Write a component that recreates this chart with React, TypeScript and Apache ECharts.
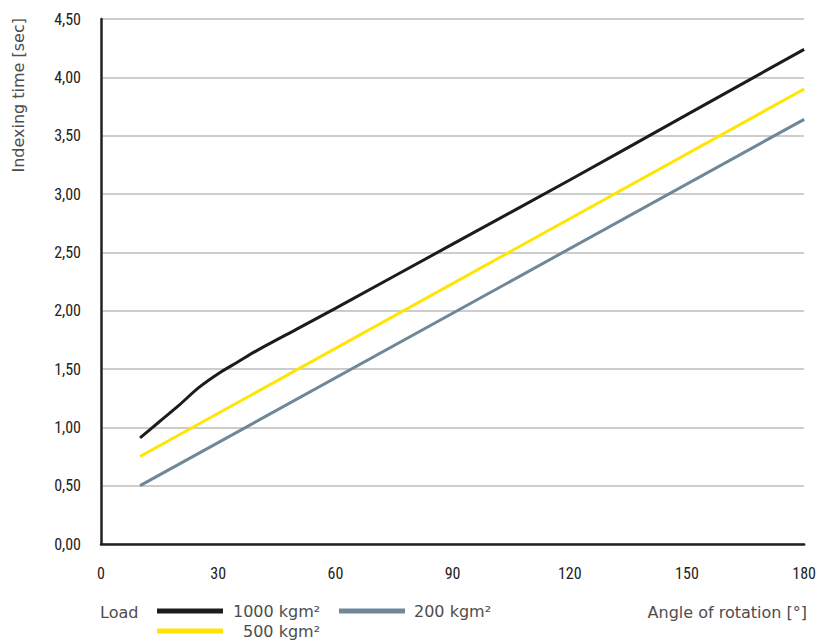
import React, { useEffect, useRef } from "react";
import * as echarts from "echarts";

const xTicks = [0, 30, 60, 90, 120, 150, 180];
const load1000 = [
  [10, 0.91], [15, 1.05], [20, 1.19], [25, 1.34], [30, 1.46], [35, 1.56],
  [40, 1.66], [50, 1.84], [60, 2.02], [90, 2.57], [120, 3.12], [150, 3.68], [180, 4.24],
];
const load500 = [[10, 0.75], [180, 3.9]];
const load200 = [[10, 0.5], [180, 3.64]];
const seriesNames = ["1000 kgm²", "500 kgm²", "200 kgm²"];
const seriesColors = ["#1c1c1c", "#ffe500", "#6e8799"];

const tickFont = "'Liberation Sans Narrow', 'Roboto Condensed', 'DejaVu Sans Condensed', sans-serif";
const textFont = "'DejaVu Sans', sans-serif";
const textColor = "#4d4d4d";

export default function App() {
  const ref = useRef<HTMLDivElement>(null);
  useEffect(() => {
    const chart = echarts.init(ref.current!, null, { renderer: "svg" });
    const legendText = { fontFamily: textFont, fontSize: 16, color: textColor, fontWeight: "normal" };
    const legendBase = {
      icon: "rect",
      itemWidth: 66,
      itemHeight: 5,
      selectedMode: false,
      padding: 0,
    };
    chart.setOption({
      animation: false,
      grid: { left: 101, right: 12, top: 19, bottom: 99 },
      xAxis: {
        type: "value",
        min: 0,
        max: 180,
        interval: 30,
        axisLine: { show: true, lineStyle: { color: "#222", width: 2.5 } },
        axisTick: { show: false },
        splitLine: { show: false },
        axisLabel: {
          margin: 21,
          fontFamily: tickFont,
          fontSize: 16,
          color: "#222",
          formatter: (v: number) => String(v),
        },
      },
      yAxis: {
        type: "value",
        min: 0,
        max: 4.5,
        interval: 0.5,
        axisLine: { show: true, onZero: false, lineStyle: { color: "#222", width: 2.5 } },
        axisTick: { show: false },
        splitLine: { show: true, lineStyle: { color: "#bdbdbd", width: 1.5 } },
        axisLabel: {
          margin: 20,
          fontFamily: tickFont,
          fontSize: 16,
          color: "#222",
          formatter: (v: number) => v.toFixed(2).replace(".", ","),
        },
      },
      legend: [
        {
          ...legendBase,
          data: [seriesNames[0]],
          left: 157,
          top: 603,
          textStyle: { ...legendText, padding: [0, 0, 0, 5] },
        },
        {
          ...legendBase,
          data: [seriesNames[2]],
          left: 339,
          top: 603,
          textStyle: { ...legendText, padding: [0, 0, 0, 4] },
        },
        {
          ...legendBase,
          data: [seriesNames[1]],
          left: 157,
          top: 623,
          textStyle: { ...legendText, padding: [0, 0, 0, 15] },
        },
      ],
      graphic: [
        {
          type: "text",
          x: 18,
          y: 18,
          rotation: Math.PI / 2,
          style: {
            text: "Indexing time [sec]",
            fontFamily: textFont,
            fontSize: 16,
            fill: textColor,
            align: "right",
            verticalAlign: "middle",
          },
        },
        {
          type: "text",
          x: 100,
          y: 612,
          style: {
            text: "Load",
            fontFamily: textFont,
            fontSize: 16,
            fill: textColor,
            align: "left",
            verticalAlign: "middle",
          },
        },
        {
          type: "text",
          x: 807,
          y: 612,
          style: {
            text: "Angle of rotation [°]",
            fontFamily: textFont,
            fontSize: 16,
            fill: textColor,
            align: "right",
            verticalAlign: "middle",
          },
        },
      ],
      series: [
        { name: seriesNames[0], type: "line", data: load1000, smooth: 0.3, showSymbol: false, lineStyle: { width: 3 }, color: seriesColors[0] },
        { name: seriesNames[1], type: "line", data: load500, showSymbol: false, lineStyle: { width: 3 }, color: seriesColors[1] },
        { name: seriesNames[2], type: "line", data: load200, showSymbol: false, lineStyle: { width: 3 }, color: seriesColors[2] },
      ],
    });
    return () => chart.dispose();
  }, []);
  return <div ref={ref} style={{ width: 819, height: 643, position: "absolute", left: 0, top: 0 }} />;
}
